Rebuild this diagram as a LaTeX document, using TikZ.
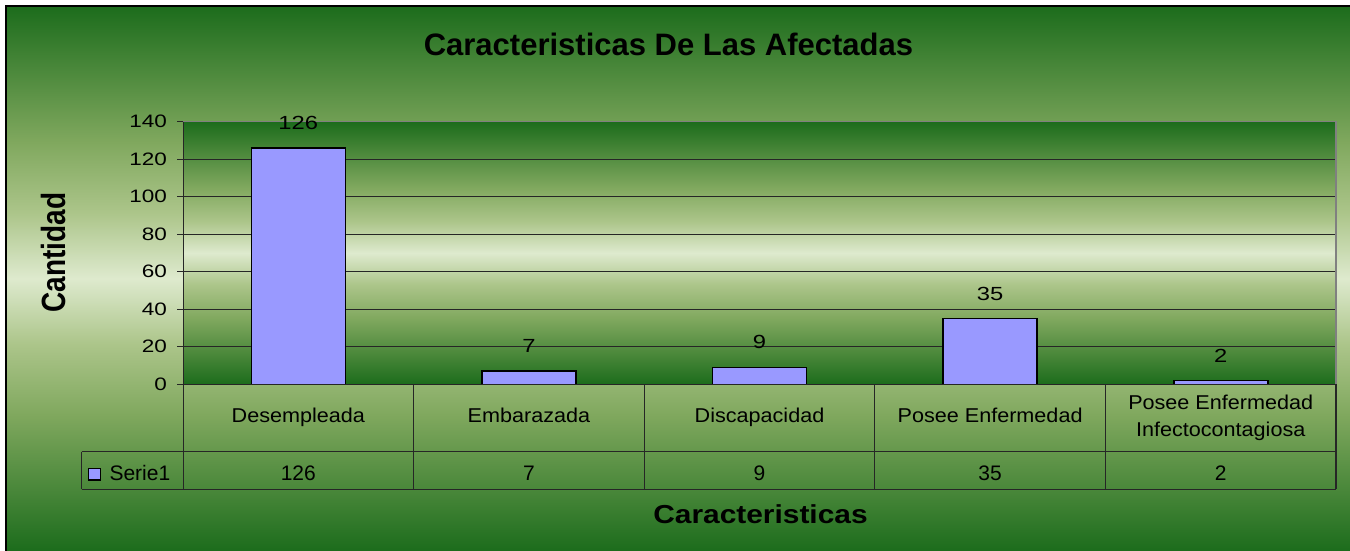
\documentclass[tikz,border=0pt]{standalone}
\usepackage{fontspec}
\setmainfont{Liberation Sans}
\newfontfamily\fTick{Liberation Sans}[FakeStretch=1.25]
\newfontfamily\fCat{Liberation Sans}[FakeStretch=1.08]
\newfontfamily\fAxis{Liberation Sans}[FakeStretch=1.15]
\definecolor{dkg}{RGB}{28,108,28}
\definecolor{midA}{RGB}{128,168,94}
\definecolor{midB}{RGB}{172,197,138}
\definecolor{lightg}{RGB}{222,234,206}
\definecolor{barfill}{RGB}{153,153,255}
\pgfdeclareverticalshading{bgband}{100bp}{color(0bp)=(dkg); color(25bp)=(dkg); color(37.5bp)=(midA); color(44bp)=(midB); color(50bp)=(lightg); color(56bp)=(midB); color(62.5bp)=(midA); color(75bp)=(dkg); color(100bp)=(dkg)}
\tikzset{
  gridline/.style={draw=black!85, line width=0.9pt},
  tabline/.style={draw=black!85, line width=0.9pt},
  barbox/.style={draw=black, line width=1.6pt, fill=barfill},
  datalbl/.style={inner sep=0pt, font=\fontsize{19}{22}\selectfont\fTick},
  ticklbl/.style={inner sep=0pt, anchor=east, font=\fontsize{18}{21}\selectfont\fTick},
  catlbl/.style={inner sep=0pt, anchor=base, font=\fontsize{20}{24}\selectfont\fCat},
  vallbl/.style={inner sep=0pt, anchor=base, font=\fontsize{21}{24}\selectfont},
  titlelbl/.style={inner sep=0pt, anchor=base, font=\fontsize{31}{36}\selectfont\bfseries},
  axislbl/.style={inner sep=0pt, anchor=base, font=\fontsize{26}{30}\selectfont\fAxis\bfseries},
  yaxislbl/.style={inner sep=0pt, anchor=base, font=\fontsize{28}{32}\selectfont\bfseries}
}
\begin{document}
\begin{tikzpicture}[x=1pt,y=-1pt]
\useasboundingbox (0,0) rectangle (1350,551);
\fill[white] (0,0) rectangle (1350,551);
% chart background
\fill[shading=bgband] (6,6) rectangle (1350,551);
\draw[black, line width=1.5pt] (6,551) -- (6,6) -- (1350,6);
% title
\node[titlelbl] (title) at (668.5,56) {Caracteristicas De Las Afectadas};
% plot area
\fill[shading=bgband] (183,121.7) rectangle (1336,384.3);
\foreach \v in {20,40,...,120}{
  \pgfmathsetmacro{\yy}{384.3-\v*1.8757}
  \draw[gridline] (183,\yy) -- (1336,\yy);
}
\draw[gray, line width=1.5pt] (183,121.7) -- (1336,121.7) -- (1336,384.3);
% ticks and tick labels
\foreach \v in {0,20,...,140}{
  \pgfmathsetmacro{\yy}{384.3-\v*1.8757}
  \draw[tabline] (177,\yy) -- (183,\yy);
  \node[ticklbl] (tick\v) at (167,\yy) {\v};
}
% bars
\foreach \i/\v in {0/126,1/7,2/9,3/35,4/2}{
  \pgfmathsetmacro{\cx}{298.3+\i*230.6}
  \pgfmathsetmacro{\yt}{384.3-\v*1.8757}
  \draw[barbox] (\cx-47,384.3) rectangle (\cx+47,\yt);
  \node[datalbl] (dl\i) at (\cx,\yt-25) {\v};
}
% axis line and table
\draw[tabline] (183,121.7) -- (183,489);
\draw[tabline] (177,384.3) -- (1336,384.3);
\draw[tabline] (81.7,451.7) -- (1336,451.7);
\draw[tabline] (81.7,489) -- (1336,489);
\draw[tabline] (81.7,451.7) -- (81.7,489);
\foreach \k in {1,2,3,4}{
  \pgfmathsetmacro{\xx}{183+\k*230.6}
  \draw[tabline] (\xx,384.3) -- (\xx,489);
}
\draw[black!85, line width=1.5pt] (1336,384.3) -- (1336,489);
% category labels
\node[catlbl] (c0) at (298.3,422.3) {Desempleada};
\node[catlbl] (c1) at (528.9,422.3) {Embarazada};
\node[catlbl] (c2) at (759.5,422.3) {Discapacidad};
\node[catlbl] (c3) at (990.1,422.3) {Posee Enfermedad};
\node[catlbl] (c4a) at (1220.7,409) {Posee Enfermedad};
\node[catlbl] (c4b) at (1220.7,436.7) {Infectocontagiosa};
% values row
\foreach \i/\v in {0/126,1/7,2/9,3/35,4/2}{
  \pgfmathsetmacro{\cx}{298.3+\i*230.6}
  \node[vallbl] (v\i) at (\cx,480) {\v};
}
% legend key
\draw[draw=black, line width=1.2pt, fill=barfill] (88.5,468.5) rectangle (100.5,480);
\node[vallbl, anchor=base west] (serie) at (109.3,480) {Serie1};
% axis titles
\node[yaxislbl, rotate=90] (ytitle) at (65.5,252.5) {\scalebox{1}[1.2]{Cantidad}};
\node[axislbl] (xtitle) at (760.5,523) {Caracteristicas};
\end{tikzpicture}
\end{document}
